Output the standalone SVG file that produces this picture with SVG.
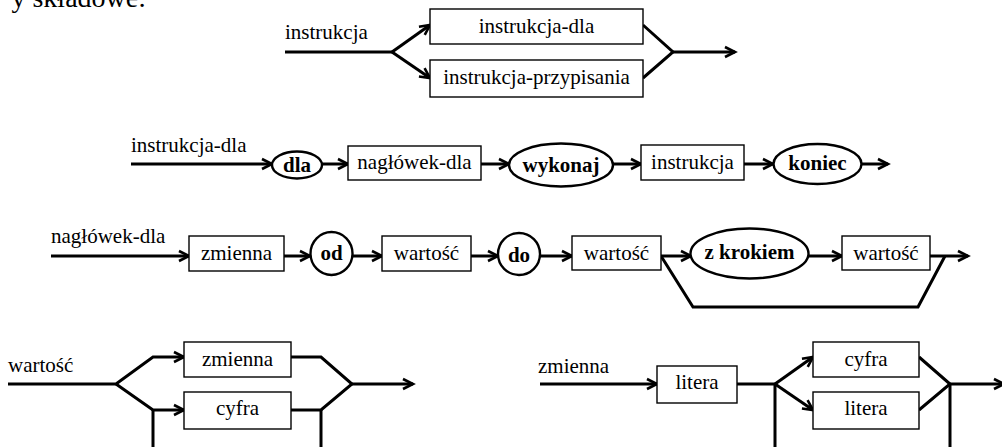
<svg xmlns="http://www.w3.org/2000/svg" width="1002" height="447" viewBox="0 0 1002 447">
<style>
text{font-family:"Liberation Serif","Times New Roman",serif;font-size:21px;fill:#000}
.c{text-anchor:middle}
.b{font-weight:bold}
.box{fill:#fff;stroke:#000;stroke-width:1.4}
.ell{fill:#fff;stroke:#000;stroke-width:2.4}
.ln{fill:none;stroke:#000;stroke-width:3;stroke-linejoin:miter}
.ar{marker-end:url(#arr)}
</style>
<defs>
<marker id="arr" markerUnits="userSpaceOnUse" markerWidth="14" markerHeight="14" refX="11" refY="6" orient="auto" overflow="visible">
<path d="M1,1 L11,6 L1,11" fill="none" stroke="#000" stroke-width="2.6"/>
</marker>
</defs>
<text x="146" y="7" style="font-size:28px;text-anchor:end">y składowe:</text>

<g id="connectors">
<!-- row 1 -->
<path class="ln" d="M285,52 H392"/>
<path class="ln ar" d="M392,52 L430,25"/>
<path class="ln ar" d="M392,52 L430,78"/>
<path class="ln" d="M643,25 L673,52 L643,78"/>
<path class="ln ar" d="M673,52 H735"/>
<!-- row 2 -->
<path class="ln ar" d="M131,164 H272"/>
<path class="ln ar" d="M322,164 H348"/>
<path class="ln ar" d="M481,164 H509"/>
<path class="ln ar" d="M613,164 H641"/>
<path class="ln ar" d="M744,164 H773"/>
<path class="ln ar" d="M862,164 H888"/>
<!-- row 3 -->
<path class="ln ar" d="M51,256 H189"/>
<path class="ln ar" d="M284,256 H310"/>
<path class="ln ar" d="M353,256 H382"/>
<path class="ln ar" d="M471,256 H498"/>
<path class="ln ar" d="M540,256 H572"/>
<path class="ln ar" d="M661,256 H691"/>
<path class="ln ar" d="M808,256 H842"/>
<path class="ln ar" d="M930,256 H968"/>
<path class="ln" d="M661,256 L693,307 H918 L945,256"/>
<!-- row 4 left -->
<path class="ln ar" d="M8,384 H116 L153,357 H184"/>
<path class="ln ar" d="M116,384 L153,410 H184"/>
<path class="ln" d="M291,357 H321 L352,384 L321,410 H291"/>
<path class="ln ar" d="M352,384 H413"/>
<path class="ln" d="M153,410 V450"/>
<path class="ln" d="M321,410 V450"/>
<!-- row 4 right -->
<path class="ln ar" d="M540,384 H657"/>
<path class="ln" d="M737,384 H775 V450"/>
<path class="ln ar" d="M775,384 L813,357"/>
<path class="ln ar" d="M775,384 L813,410"/>
<path class="ln" d="M919,357 L950,384 L919,410"/>
<path class="ln" d="M950,384 V450"/>
<path class="ln ar" d="M950,384 H1004"/>
</g>

<!-- labels -->
<g id="labels">
<text x="285" y="39">instrukcja</text>
<text x="131" y="152">instrukcja-dla</text>
<text x="51" y="243">nagłówek-dla</text>
<text x="8" y="372">wartość</text>
<text x="538" y="373">zmienna</text>
</g>

<!-- row 1 nodes -->
<g id="r1-instrukcja-dla"><rect class="box" x="430" y="9" width="213" height="35"/><text class="c" x="536.5" y="33">instrukcja-dla</text></g>
<g id="r1-instrukcja-przypisania"><rect class="box" x="430" y="60" width="213" height="37"/><text class="c" x="536.5" y="84">instrukcja-przypisania</text></g>

<!-- row 2 nodes -->
<g id="r2-dla"><ellipse class="ell" cx="297" cy="165" rx="25" ry="13.5"/><text class="c b" x="297" y="172">dla</text></g>
<g id="r2-naglowek-dla"><rect class="box" x="348" y="146" width="133" height="34"/><text class="c" x="414.5" y="169">nagłówek-dla</text></g>
<g id="r2-wykonaj"><ellipse class="ell" cx="561" cy="165" rx="52" ry="21.5"/><text class="c b" x="561" y="172">wykonaj</text></g>
<g id="r2-instrukcja"><rect class="box" x="641" y="145" width="103" height="35"/><text class="c" x="692.5" y="169">instrukcja</text></g>
<g id="r2-koniec"><ellipse class="ell" cx="817.5" cy="164" rx="44" ry="20"/><text class="c b" x="817.5" y="170">koniec</text></g>

<!-- row 3 nodes -->
<g id="r3-zmienna"><rect class="box" x="189" y="236" width="95" height="35"/><text class="c" x="236.5" y="260">zmienna</text></g>
<g id="r3-od"><ellipse class="ell" cx="331.5" cy="253.5" rx="21" ry="21.5"/><text class="c b" x="331.5" y="260">od</text></g>
<g id="r3-wartosc1"><rect class="box" x="382" y="236" width="89" height="35"/><text class="c" x="426.5" y="260">wartość</text></g>
<g id="r3-do"><ellipse class="ell" cx="519" cy="254" rx="21" ry="21"/><text class="c b" x="519" y="262">do</text></g>
<g id="r3-wartosc2"><rect class="box" x="572" y="236" width="89" height="34"/><text class="c" x="616.5" y="260">wartość</text></g>
<g id="r3-z-krokiem"><ellipse class="ell" cx="749.5" cy="253.5" rx="59" ry="25"/><text class="c b" x="749.5" y="259">z krokiem</text></g>
<g id="r3-wartosc3"><rect class="box" x="842" y="236" width="88" height="34"/><text class="c" x="886" y="260">wartość</text></g>

<!-- row 4 left nodes -->
<g id="r4-zmienna"><rect class="box" x="184" y="342" width="107" height="35"/><text class="c" x="237.5" y="366">zmienna</text></g>
<g id="r4-cyfra"><rect class="box" x="184" y="392" width="107" height="37"/><text class="c" x="237.5" y="415">cyfra</text></g>

<!-- row 4 right nodes -->
<g id="r4-litera1"><rect class="box" x="657" y="366" width="80" height="37"/><text class="c" x="697" y="389">litera</text></g>
<g id="r4-cyfra2"><rect class="box" x="813" y="342" width="106" height="35"/><text class="c" x="866" y="366">cyfra</text></g>
<g id="r4-litera2"><rect class="box" x="813" y="392" width="106" height="37"/><text class="c" x="866" y="415">litera</text></g>
</svg>
